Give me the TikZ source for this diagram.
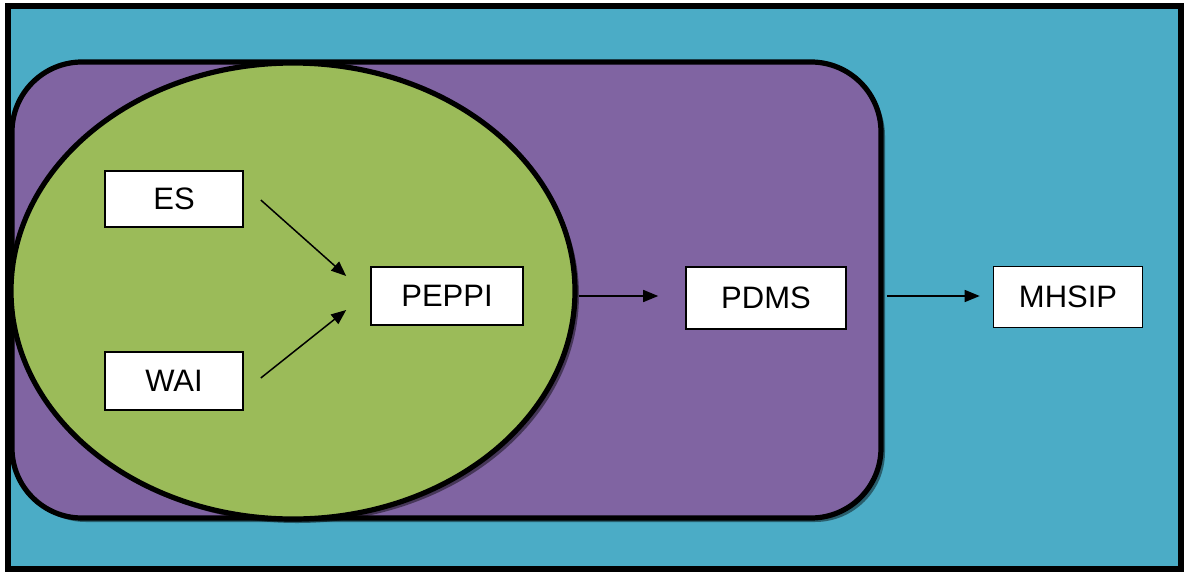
\documentclass[tikz,border=0pt]{standalone}
\usepackage{fontspec}
\setmainfont{Liberation Sans}
\usepackage{tikz}
\usetikzlibrary{arrows.meta, positioning, shapes.geometric, calc, shadows}

\definecolor{outerteal}{RGB}{75,172,198}
\definecolor{midpurple}{RGB}{128,100,162}
\definecolor{innergreen}{RGB}{155,187,89}

\tikzset{
  box/.style={draw=black, fill=white, line width=0.8pt, inner sep=0pt,
    font=\fontsize{15.5}{18}\selectfont},
  arr/.style={-{Triangle[length=7.5pt,width=6pt]}, line width=0.75pt},
  softshadow/.style={drop shadow={shadow xshift=2pt, shadow yshift=-2pt,
    fill=black, opacity=0.45}}
}

\begin{document}
\begin{tikzpicture}[x=0.5pt, y=-0.5pt]
      \useasboundingbox (0,0) rectangle (1187,573);
      \draw[fill=outerteal, line width=3pt] (8,6) rectangle (1181,569);
      \draw[fill=midpurple, line width=2.6pt, rounded corners=35pt, softshadow] (12,62) rectangle (881,518);
      \node[ellipse, draw, fill=innergreen, line width=2.6pt, inner sep=0pt,
        minimum width=282pt, minimum height=228pt, softshadow] (ring) at (293,291) {};

      \node[box, minimum width=69pt, minimum height=28pt] (es) at (174,199) {ES};
      \node[box, minimum width=69pt, minimum height=29pt] (wai) at (174,381) {WAI};
      \node[box, minimum width=76pt, minimum height=29pt] (peppi) at (447,296) {PEPPI};
      \node[box, minimum width=80pt, minimum height=31pt] (pdms) at (766,298) {PDMS};
      \node[box, minimum width=74.5pt, minimum height=30.5pt] (mhsip) at (1068,297) {MHSIP};

      % inputs into PEPPI
      \draw[arr] ($(es.east)+(17,1)$) -- ($(peppi.west)+(-24,-20)$);
      \draw[arr] ($(wai.east)+(17,-3)$) -- ($(peppi.west)+(-24,14)$);
      % chain to the outcome
      \draw[arr] ($(ring.east)+(1,5)$) -- ($(pdms.west)+(-27,-2)$);
      \draw[arr] ($(pdms.east)+(40,-2)$) -- ($(mhsip.west)+(-13,-1)$);
    \end{tikzpicture}
\end{document}
